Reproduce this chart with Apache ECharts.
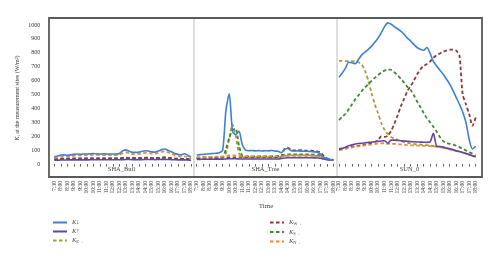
<!DOCTYPE html>
<html><head><meta charset="utf-8">
<script src="https://cdn.jsdelivr.net/npm/echarts@6/dist/echarts.min.js"></script>
<style>html,body{margin:0;padding:0;background:#fff}#c{width:500px;height:262px}</style>
</head><body><div id="c"></div>
<script>
// quarter-hour sample times (decimal hours)
const times = [7.5,7.75,8,8.25,8.5,8.75,9,9.25,9.5,9.75,10,10.25,10.5,10.75,11,11.25,11.5,11.75,12,12.25,12.5,12.75,13,13.25,13.5,13.75,14,14.25,14.5,14.75,15,15.25,15.5,15.75,16,16.25,16.5,16.75,17,17.25,17.5,17.75,18];
const tickLabels = ['7:30','8:00','8:30','9:00','9:30','10:00','10:30','11:00','11:30','12:00','12:30','13:00','13:30','14:00','14:30','15:00','15:30','16:00','16:30','17:00','17:30','18:00'];
const panels = ['SHA_Buil','SHA_Tree','SUN_0'];
const seriesNames = ['K↓','K↑','KE','KW','KS','KN'];

// SHA_Buil
const builDown = [52,58,65,66,64,66,70,72,70,72,72,74,76,74,72,74,73,72,72,72,76,95,102,92,84,84,86,92,96,94,88,86,94,104,108,98,88,76,70,66,74,64,50];
const builUp   = [28,28,29,29,30,30,30,30,30,30,30,31,31,31,31,31,31,31,31,31,31,32,33,33,32,32,32,32,33,33,33,32,33,34,34,33,32,31,30,30,30,29,27];
const builE    = [36,36,37,37,38,38,38,38,38,38,38,38,38,38,38,38,38,38,38,38,38,40,42,41,40,40,40,41,42,42,41,40,41,43,44,42,40,38,37,36,36,35,32];
const builW    = [38,38,39,39,40,40,40,40,40,40,40,41,41,41,41,41,41,41,41,41,41,43,45,44,42,42,42,43,44,44,43,42,43,45,46,44,42,40,39,38,38,37,34];
const builS    = [35,36,37,37,38,38,38,39,39,39,40,40,40,40,40,40,40,40,40,40,41,44,46,44,42,42,43,45,46,46,44,43,45,48,50,46,42,39,38,37,38,36,33];
const builN    = [45,48,54,56,57,58,60,62,62,63,64,65,66,66,65,65,65,65,65,65,66,78,85,78,72,72,74,78,80,80,76,74,80,88,92,84,74,64,58,54,56,50,40];

// SHA_Tree
const treeDown = [65,68,70,72,74,76,78,82,100,390,505,235,212,235,140,100,96,98,95,97,94,96,95,98,94,92,82,108,112,96,94,95,93,92,92,90,88,86,72,50,38,33,30];
const treeUp   = [34,34,35,35,35,35,36,36,36,37,38,38,38,37,37,37,37,37,37,37,37,37,37,37,37,37,40,44,46,46,46,46,46,46,46,46,45,44,42,36,32,30,28];
const treeE    = [45,45,46,46,46,47,47,48,48,80,180,285,200,80,50,48,48,48,48,48,48,48,48,48,48,49,52,58,62,62,62,62,62,62,62,62,60,58,55,42,34,31,29];
const treeW    = [45,45,46,46,46,47,47,47,48,48,48,48,48,48,48,48,48,48,48,48,48,48,48,48,48,50,55,110,118,100,98,100,100,98,96,96,94,92,85,60,42,35,30];
const treeS    = [45,45,46,46,46,47,47,48,50,110,190,245,255,130,60,55,55,55,55,55,55,56,56,56,57,58,62,68,70,70,70,70,70,70,70,70,68,66,62,45,35,32,30];
const treeN    = [50,50,51,51,52,52,53,53,54,58,62,64,60,56,55,55,55,55,55,55,55,55,55,55,55,55,56,58,60,60,60,60,60,60,60,60,58,56,52,40,34,31,29];

// SUN_0
const sunDown = [625,655,690,732,728,722,752,785,805,825,848,875,905,945,988,1015,1005,988,972,955,932,905,885,860,838,825,818,838,795,738,705,675,645,612,575,530,480,430,375,300,178,108,128];
const sunUp   = [105,112,122,132,138,144,148,150,153,156,158,160,163,166,168,150,172,172,170,168,166,164,162,160,159,158,157,156,160,222,128,126,122,116,110,104,96,90,84,76,68,60,52];
const sunE    = [742,742,741,740,739,737,732,715,670,600,510,430,365,295,245,215,195,184,175,165,158,152,148,145,142,140,138,136,133,130,127,123,118,112,106,100,94,88,82,75,68,60,52];
const sunW    = [110,112,115,120,125,128,130,135,140,145,150,160,172,200,195,205,238,290,350,415,470,525,560,600,645,680,705,720,738,765,782,795,808,816,822,822,815,780,500,430,360,275,335];
const sunS    = [316,340,362,395,430,465,495,525,550,575,598,620,640,658,672,680,678,660,640,612,585,555,532,495,450,410,368,330,300,268,235,195,165,152,146,140,132,122,110,98,85,75,62];
const sunN    = [100,104,110,116,120,124,127,130,134,138,141,144,147,149,150,145,146,145,143,141,139,137,135,134,133,132,131,130,129,127,125,122,118,114,108,102,96,90,84,76,68,60,52];

const panelData = [
  [builDown,builUp,builE,builW,builS,builN],
  [treeDown,treeUp,treeE,treeW,treeS,treeN],
  [sunDown,sunUp,sunE,sunW,sunS,sunN]
];

const styles = {
  'K↓': {color:'#3f7fd4', type:'solid', width:1.6, z:10},
  'K↑': {color:'#6046a8', type:'solid', width:1.6, z:9},
  'KE': {color:'#a89c3a', type:[3.5,2.5], width:1.8, z:5},
  'KW': {color:'#8a3838', type:[3.5,2.5], width:1.8, z:6},
  'KS': {color:'#3c8a3a', type:[3.5,2.5], width:1.8, z:5},
  'KN': {color:'#e8902c', type:[3.5,2.5], width:1.8, z:7}
};

const gridLefts = [54.3, 196.7, 339];
const gridW = 136.7;
const FONT = 'Liberation Serif';

const grids = [], xAxes = [], yAxes = [], series = [];
panels.forEach((p, i) => {
  grids.push({left: gridLefts[i], top: 18, width: gridW, height: 160});
  xAxes.push({
    type:'value', gridIndex:i, min:7.5, max:18, interval:0.5,
    axisLine:{show:false}, splitLine:{show:false},
    axisTick:{show:true, length:2.5, lineStyle:{color:'#333', width:0.8}},
    axisLabel:{rotate:90, fontSize:5.5, margin:3, color:'#333', fontFamily:FONT,
      formatter: v => tickLabels[Math.round((v-7.5)*2)] || ''}
  });
  yAxes.push({
    type:'value', gridIndex:i, min:-100, max:1050, interval:100,
    axisLine:{show:false}, splitLine:{show:false}, axisTick:{show:false},
    axisLabel:{show: i===0, fontSize:6, margin:14, color:'#333', fontFamily:FONT,
      formatter: v => (v < 0 || v > 1000) ? '' : String(v)},
    name: i===0 ? '{i|K}{s|i} at the measurement sites (W/m²)' : '',
    nameLocation:'middle', nameGap:33,
    nameTextStyle:{fontSize:6, color:'#333', fontFamily:FONT,
      rich:{i:{fontStyle:'italic', fontSize:6, fontFamily:FONT, color:'#333'},
            s:{fontSize:4.5, fontFamily:FONT, color:'#333', padding:[3,0,0,0]}}}
  });
  panelData[i].forEach((vals, k) => {
    const nm = seriesNames[k];
    const st = styles[nm];
    series.push({
      type:'line', name:nm, xAxisIndex:i, yAxisIndex:i,
      data: times.map((t, j) => [t, vals[j]]),
      symbol:'none', smooth:0.25, z:st.z,
      lineStyle:{color:st.color, type:st.type, width:st.width},
      itemStyle:{color:st.color},
      animation:false
    });
  });
});

const legendRich = {
  i:{fontStyle:'italic', fontSize:6.5, fontFamily:FONT, color:'#444'},
  t:{fontSize:6.5, fontFamily:FONT, color:'#444'},
  s:{fontSize:4.5, fontFamily:FONT, color:'#444', padding:[3,0,0,0]}
};
const legendFmt = n => {
  if (n === 'K↓') return '{i|K}{t|↓}';
  if (n === 'K↑') return '{i|K}{t|↑}';
  return '{i|K}{s|' + n.slice(1) + '→}';
};
const legendBase = {
  orient:'vertical', top:214, itemWidth:14, itemHeight:8, itemGap:2,
  itemStyle:{opacity:0},
  formatter: legendFmt, textStyle:{fontSize:6.5, fontFamily:FONT, color:'#444', rich:legendRich},
  selectedMode:false
};

const chart = echarts.init(document.getElementById('c'), null, {renderer:'canvas'});
chart.setOption({
  backgroundColor:'#fff',
  animation:false,
  grid:grids, xAxis:xAxes, yAxis:yAxes, series:series,
  legend:[
    Object.assign({}, legendBase, {left:47, data:['K↓','K↑','KE']}),
    Object.assign({}, legendBase, {left:264, data:['KW','KS','KN']})
  ],
  graphic:[
    {type:'line', shape:{x1:194, y1:18, x2:194, y2:177}, style:{stroke:'#c8c8c8', lineWidth:1.2}, z:1},
    {type:'line', shape:{x1:337, y1:18, x2:337, y2:177}, style:{stroke:'#c8c8c8', lineWidth:1.2}, z:1},
    {type:'rect', shape:{x:49, y:18, width:433, height:159}, style:{fill:'none', stroke:'#5a5a5a', lineWidth:1.8}, z:100},
    {type:'text', x:121.5, y:169, style:{text:'SHA_Buil', fontSize:6.5, fontFamily:FONT, fill:'#444', textAlign:'center', textVerticalAlign:'middle'}},
    {type:'text', x:265.5, y:169, style:{text:'SHA_Tree', fontSize:6.5, fontFamily:FONT, fill:'#444', textAlign:'center', textVerticalAlign:'middle'}},
    {type:'text', x:409.5, y:169, style:{text:'SUN_0', fontSize:6.5, fontFamily:FONT, fill:'#444', textAlign:'center', textVerticalAlign:'middle'}},
    {type:'text', x:266, y:206, style:{text:'Time', fontSize:7, fontFamily:FONT, fill:'#444', textAlign:'center', textVerticalAlign:'middle'}}
  ]
});
</script>
</body></html>
